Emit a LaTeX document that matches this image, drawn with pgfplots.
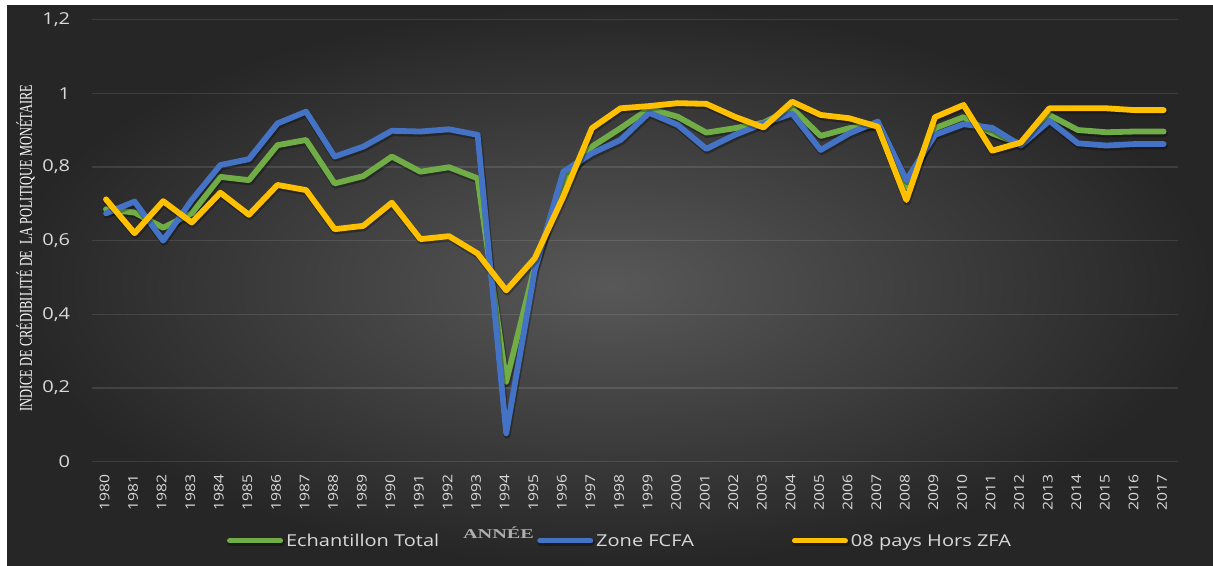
\documentclass[border=0pt]{standalone}
\usepackage{fontspec}
\usepackage{pgfplots}
\pgfplotsset{compat=1.18}
\newfontfamily\osans{Open Sans}[FakeStretch=1.22]
\newfontfamily\osyear{Open Sans}[FakeStretch=1.17]
\newfontfamily\serifY{Liberation Serif}[FakeStretch=0.69]
\newfontfamily\serifA{Liberation Serif}[FakeStretch=1.5]
\definecolor{cgreen}{RGB}{112,173,71}
\definecolor{cblue}{RGB}{68,114,196}
\definecolor{cyellow}{RGB}{255,192,0}
\definecolor{ctext}{RGB}{217,217,217}
\definecolor{bgin}{RGB}{88,88,88}
\definecolor{bgout}{RGB}{38,38,38}

\pgfplotstableread{
year green blue yellow
1980 0.685 0.674 0.712
1981 0.676 0.706 0.620
1982 0.635 0.600 0.707
1983 0.674 0.710 0.649
1984 0.773 0.805 0.730
1985 0.764 0.821 0.670
1986 0.859 0.918 0.751
1987 0.873 0.950 0.737
1988 0.755 0.828 0.631
1989 0.775 0.855 0.640
1990 0.828 0.898 0.703
1991 0.787 0.896 0.604
1992 0.799 0.902 0.612
1993 0.769 0.887 0.565
1994 0.217 0.077 0.465
1995 0.530 0.520 0.552
1996 0.760 0.787 0.720
1997 0.855 0.837 0.905
1998 0.905 0.873 0.959
1999 0.958 0.947 0.965
2000 0.936 0.914 0.973
2001 0.893 0.849 0.971
2002 0.905 0.887 0.936
2003 0.920 0.918 0.907
2004 0.959 0.945 0.977
2005 0.884 0.846 0.941
2006 0.905 0.891 0.932
2007 0.914 0.923 0.909
2008 0.745 0.764 0.710
2009 0.905 0.887 0.935
2010 0.935 0.916 0.968
2011 0.891 0.906 0.844
2012 0.862 0.858 0.866
2013 0.941 0.925 0.959
2014 0.900 0.864 0.959
2015 0.894 0.858 0.959
2016 0.896 0.862 0.954
2017 0.896 0.862 0.954
}\datatable

\begin{document}
\begin{tikzpicture}[x=1pt,y=1pt]
\useasboundingbox (0,0) rectangle (1213,565);
\fill[white] (0,0) rectangle (1213,565);
\shade[inner color=bgin, outer color=bgout] (7,0) rectangle (1213,559);
\begin{axis}[
  scale only axis,
  width=1086.3pt, height=442.2pt,
  at={(91.7pt,103.3pt)}, anchor=south west,
  xmin=1979.5, xmax=2017.5,
  ymin=0, ymax=1.2,
  xtick={1980,...,2017},
  ytick={0,0.2,0.4,0.6,0.8,1,1.2},
  axis line style={draw=none},
  major tick length=0pt,
  ymajorgrids,
  major grid style={line width=1.3pt, draw=white, draw opacity=0.11},
  /pgf/number format/assume math mode=true,
  /pgf/number format/use comma,
  /pgf/number format/1000 sep={},
  yticklabel style={font=\osans\fontsize{16.4}{18}\selectfont, text=ctext, anchor=east, xshift=-18pt},
  xticklabel style={font=\osyear\fontsize{13.4}{14}\selectfont, text=ctext, rotate=90, anchor=east, xshift=-9pt, yshift=1.5pt},
  xlabel={ANNÉE},
  every axis x label/.style={at={(axis description cs:0.3745,-0.1612)}, anchor=center, font=\serifA\bfseries\fontsize{13.5}{14}\selectfont, text={rgb,255:red,175;green,175;blue,175}},
  ylabel={INDICE DE CRÉDIBILITÉ DE\ \ LA POLITIQUE MONÉTAIRE},
  every axis y label/.style={at={(axis description cs:-0.0609,0.4833)}, rotate=90, anchor=center, font=\serifY\fontsize{18}{18}\selectfont, text=white},
  legend columns=3,
  legend image code/.code={\draw[#1, line width=5pt, line cap=round] (2.5pt,0pt) -- (53.5pt,0pt);},
  legend style={draw=none, fill=none, inner sep=0pt, outer sep=0pt,
    at={(axis description cs:0.1246,-0.1793)}, anchor=west,
    font=\osans\fontsize{16.4}{18}\selectfont, text=ctext,
    nodes={inner xsep=1pt, inner ysep=0pt},
    /tikz/every odd column/.append style={column sep=2pt},
    /tikz/every even column/.append style={column sep=97pt}},
  every axis plot/.append style={line width=5.8pt, line join=round, line cap=round,
    preaction={draw=black, draw opacity=0.3, line width=7pt, transform canvas={xshift=0.8pt, yshift=-1.8pt}}},
]
\addplot[cgreen] table[x=year, y=green] {\datatable};
\addlegendentry{Echantillon Total}
\addplot[cblue] table[x=year, y=blue] {\datatable};
\addlegendentry{Zone FCFA}
\addplot[cyellow] table[x=year, y=yellow] {\datatable};
\addlegendentry{08 pays Hors ZFA}
\end{axis}
\end{tikzpicture}
\end{document}
